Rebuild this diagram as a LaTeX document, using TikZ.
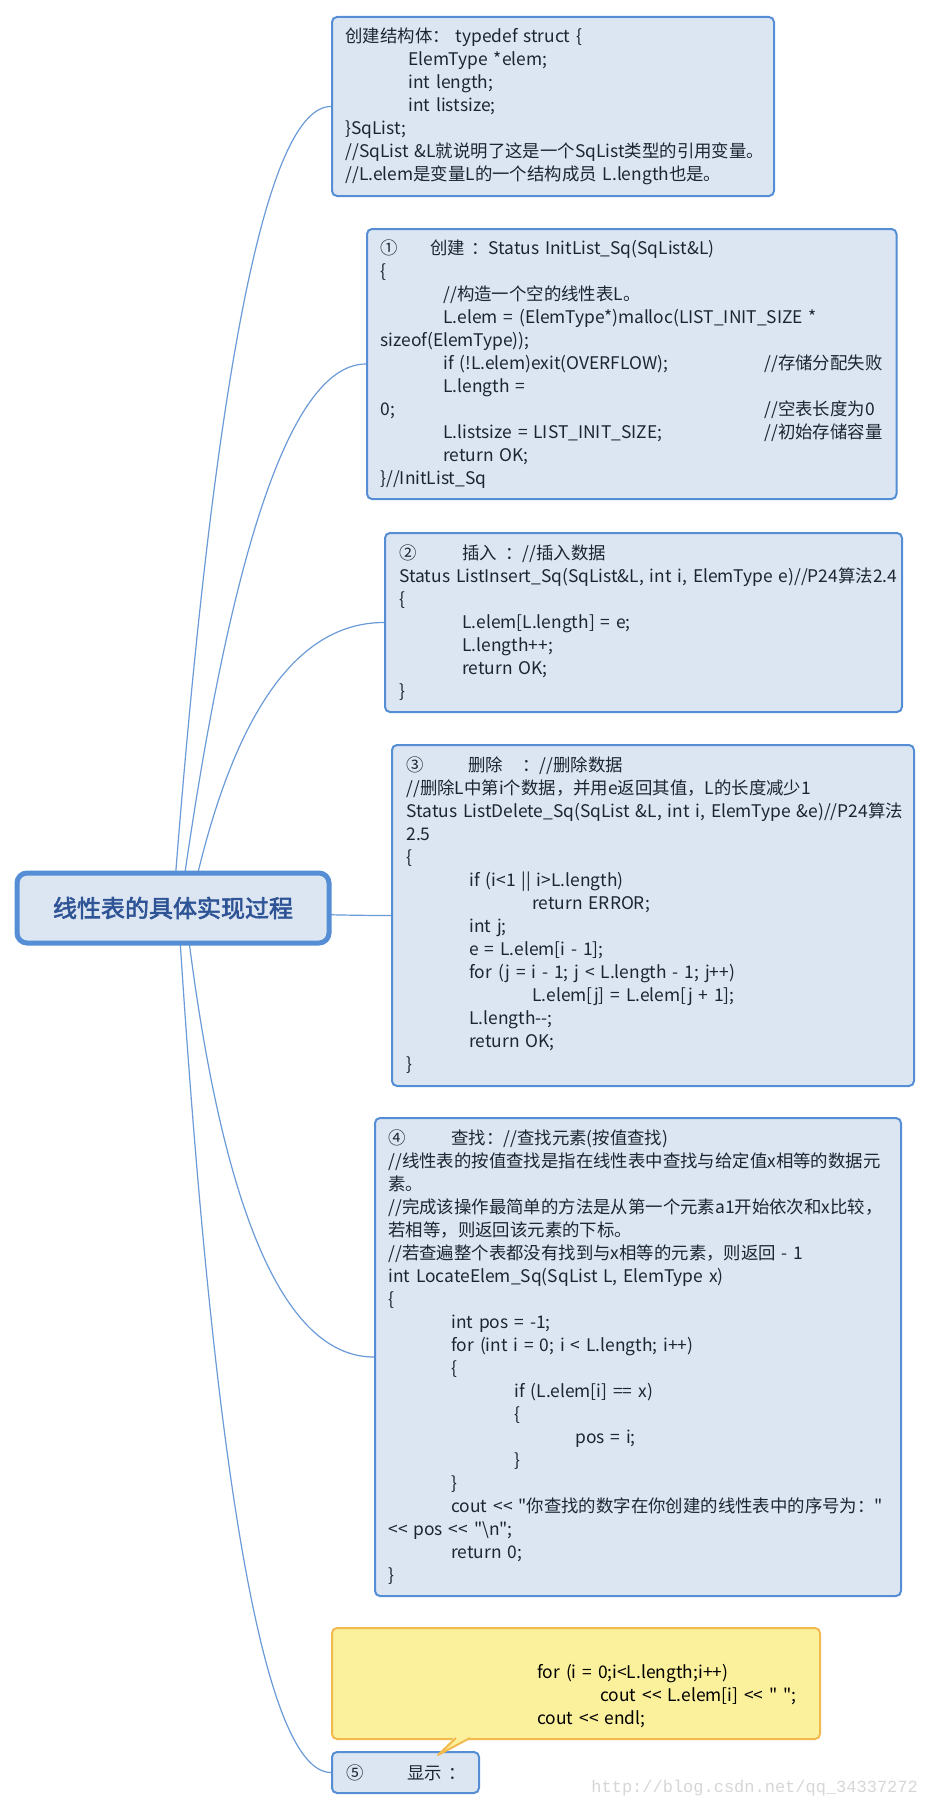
\documentclass[tikz,border=0pt]{standalone}
\usepackage{fontspec}
\setmainfont{Noto Sans CJK SC}[Ligatures=TeXOff,AutoFakeBold=2.5,WordSpace=1.5]
\newfontfamily\wmfont{Liberation Mono}
\usetikzlibrary{calc,backgrounds}
\definecolor{boxfill}{HTML}{DCE6F2}
\definecolor{boxline}{HTML}{558ED5}
\definecolor{connline}{HTML}{6A9AD8}
\definecolor{titlecol}{HTML}{2F5496}
\definecolor{txtcol}{HTML}{1C2533}
\definecolor{notefill}{HTML}{FBF09C}
\definecolor{noteline}{HTML}{F2B94F}
\definecolor{wmcol}{HTML}{D6D6D6}
\newcommand\IndA{\hspace*{31.5pt}}
\newcommand\IndB{\hspace*{63pt}}
\newcommand\IndC{\hspace*{93.5pt}}
\newcommand\CmA[1]{\makebox[192pt][l]{#1}}
\tikzset{
  box/.style={draw=boxline, line width=1pt, fill=boxfill, rounded corners=2.5pt, anchor=north west, inner sep=0pt},
  rootbox/.style={draw=boxline, line width=2.5pt, fill=boxfill, rounded corners=5pt, inner sep=0pt,
    minimum width=156pt, minimum height=35pt, text=titlecol, font=\fontsize{12pt}{14pt}\selectfont\bfseries},
  notebox/.style={draw=noteline, line width=1pt, fill=notefill, rounded corners=2.5pt, anchor=north west, inner sep=0pt},
  code/.style={anchor=west, align=left, inner sep=0pt, text=txtcol, font=\fontsize{8.7pt}{11.5pt}\selectfont},
  conn/.style={draw=connline, line width=0.6pt},
}
\begin{document}
\begin{tikzpicture}[x=0.5pt,y=-0.5pt]
\useasboundingbox (0,0) rectangle (929,1809);

% root
\node[rootbox] (root) at (173,908) {线性表的具体实现过程};

% box 0
\node[box, minimum width=221pt, minimum height=89.5pt] (b0) at (331,16) {};
\node[code] (t0) at ($(b0.west)+(14,0)$) {%
创建结构体： typedef struct \{\\
\IndA ElemType *elem;\\
\IndA int length;\\
\IndA int listsize;\\
\}SqList;\\
//SqList \&L就说明了这是一个SqList类型的引用变量。\\
//L.elem是变量L的一个结构成员 L.length也是。};

% box 1
\node[box, minimum width=264.75pt, minimum height=135pt] (b1) at (366,228) {};
\node[code] (t1) at ($(b1.west)+(14,0)$) {%
\makebox[25pt][l]{①}创建 ：Status InitList\_Sq(SqList\&L)\\
\{\\
\IndA //构造一个空的线性表L。\\
\IndA L.elem = (ElemType*)malloc(LIST\_INIT\_SIZE *\\
sizeof(ElemType));\\
\CmA{\IndA if (!L.elem)exit(OVERFLOW);}//存储分配失败\\
\IndA L.length =\\
\CmA{0;}//空表长度为0\\
\CmA{\IndA L.listsize = LIST\_INIT\_SIZE;}//初始存储容量\\
\IndA return OK;\\
\}//InitList\_Sq};

% box 2
\node[box, minimum width=258.5pt, minimum height=89.5pt] (b2) at (384,532) {};
\node[code] (t2) at ($(b2.west)+(15,0)$) {%
\makebox[31.5pt][l]{②}\makebox[21.5pt][l]{插入}：//插入数据\\
Status ListInsert\_Sq(SqList\&L, int i, ElemType e)//P24算法2.4\\
\{\\
\IndA L.elem[L.length] = e;\\
\IndA L.length++;\\
\IndA return OK;\\
\}};

% box 3
\node[box, minimum width=261pt, minimum height=170.5pt] (b3) at (391,744) {};
\node[code] (t3) at ($(b3.west)+(15,0)$) {%
\makebox[31pt][l]{③}\makebox[27pt][l]{删除}：//删除数据\\
//删除L中第i个数据，并用e返回其值，L的长度减少1\\
Status ListDelete\_Sq(SqList \&L, int i, ElemType \&e)//P24算法\\
2.5\\
\{\\
\IndA if (i<1 || i>L.length)\\
\IndB return ERROR;\\
\IndA int j;\\
\IndA e = L.elem[i - 1];\\
\IndA for (j = i - 1; j < L.length - 1; j++)\\
\IndB L.elem[j] = L.elem[j + 1];\\
\IndA L.length-{}-;\\
\IndA return OK;\\
\}};

% box 4
\node[box, minimum width=263pt, minimum height=239pt] (b4) at (374,1117) {};
\node[code] (t4) at ($(b4.west)+(14,0)$) {%
\makebox[31.5pt][l]{④}查找：//查找元素(按值查找)\\
//线性表的按值查找是指在线性表中查找与给定值x相等的数据元\\
素。\\
//完成该操作最简单的方法是从第一个元素a1开始依次和x比较，\\
若相等，则返回该元素的下标。\\
//若查遍整个表都没有找到与x相等的元素，则返回 - 1\\
int LocateElem\_Sq(SqList L, ElemType x)\\
\{\\
\IndA int pos = -1;\\
\IndA for (int i = 0; i < L.length; i++)\\
\IndA \{\\
\IndB if (L.elem[i] == x)\\
\IndB \{\\
\IndC pos = i;\\
\IndB \}\\
\IndA \}\\
\IndA cout << "你查找的数字在你创建的线性表中的序号为："\\
<< pos << "\textbackslash n";\\
\IndA return 0;\\
\}};

% box 5 and its note
\node[box, minimum width=73.5pt, minimum height=20.5pt] (b5) at (331,1751) {};
\node[code] (t5) at ($(b5.west)+(15,0)$) {\makebox[30.5pt][l]{⑤}显示 ：};

\node[notebox, minimum width=244pt, minimum height=55.5pt] (note) at (331,1627) {};
\node[code, text=black] (tn) at ($(note.west)+(206,12.5)$) {%
for (i = 0;i<L.length;i++)\\
\hspace*{31.5pt}cout << L.elem[i] << " ";\\
cout << endl;};
\fill[notefill] (455,1736.5) -- (438,1755) -- (471,1736.5) -- cycle;
\draw[noteline, line width=1pt, line join=round] (456,1738) -- (438,1755) -- (470,1738);

% watermark
\node[anchor=west, inner sep=0pt, text=wmcol, font=\wmfont\fontsize{8.5pt}{9pt}\selectfont] (wm) at (591,1788) {http://blog.csdn.net/qq\_34337272};

% connectors
\begin{pgfonlayer}{background}
\coordinate (s0) at (173,908); \coordinate (k0) at (234,0);
\coordinate (s1) at (180,908); \coordinate (k1) at (255,0);
\coordinate (s2) at (190,908); \coordinate (k2) at (250,0);
\coordinate (s3) at (173,908); \coordinate (k3) at (300,0);
\coordinate (s4) at (185,908); \coordinate (k4) at (237,0);
\coordinate (s5) at (178,908); \coordinate (k5) at (232,0);
\draw[conn] (s0) .. controls ($(s0)!2/3!(k0 |- b0.west)$) and ($(b0.west)!2/3!(k0 |- b0.west)$) .. (b0.west);
\draw[conn] (s1) .. controls ($(s1)!2/3!(k1 |- b1.west)$) and ($(b1.west)!2/3!(k1 |- b1.west)$) .. (b1.west);
\draw[conn] (s2) .. controls ($(s2)!2/3!(k2 |- b2.west)$) and ($(b2.west)!2/3!(k2 |- b2.west)$) .. (b2.west);
\draw[conn] (s3) .. controls ($(s3)!2/3!(k3 |- b3.west)$) and ($(b3.west)!2/3!(k3 |- b3.west)$) .. (b3.west);
\draw[conn] (s4) .. controls ($(s4)!2/3!(k4 |- b4.west)$) and ($(b4.west)!2/3!(k4 |- b4.west)$) .. (b4.west);
\draw[conn] (s5) .. controls ($(s5)!2/3!(k5 |- b5.west)$) and ($(b5.west)!2/3!(k5 |- b5.west)$) .. (b5.west);
\end{pgfonlayer}
\end{tikzpicture}
\end{document}
